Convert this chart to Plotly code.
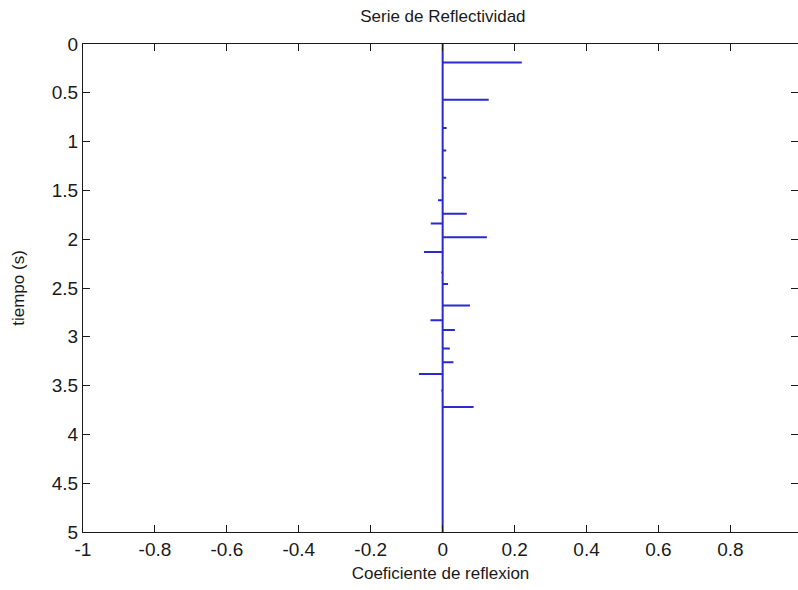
import plotly.graph_objects as go

# Reflectivity series: two-way time (s) and reflection coefficient at each interface
tiempo = [0.19, 0.57, 0.86, 1.09, 1.37, 1.60, 1.74, 1.84, 1.98, 2.13,
          2.34, 2.46, 2.68, 2.83, 2.93, 3.12, 3.26, 3.38, 3.55, 3.72]
coef = [0.22, 0.128, 0.011, 0.010, 0.010, -0.013, 0.067, -0.033, 0.123, -0.052,
        -0.004, 0.015, 0.076, -0.034, 0.034, 0.020, 0.030, -0.066, -0.004, 0.086]

t_inicio, t_fin = 0.0, 5.0
x_ticks = [-1, -0.8, -0.6, -0.4, -0.2, 0, 0.2, 0.4, 0.6, 0.8, 1]
y_ticks = [0, 0.5, 1, 1.5, 2, 2.5, 3, 3.5, 4, 4.5, 5]

# Trace runs down the zero line and out to each coefficient and back
xs, ys = [0.0], [t_inicio]
for t, r in zip(tiempo, coef):
    xs += [0.0, r, 0.0]
    ys += [t, t, t]
xs.append(0.0)
ys.append(t_fin)

FONT = "Liberation Sans"
INK = "#1a1a1a"

fig = go.Figure()
fig.add_trace(go.Scatter(x=xs, y=ys, mode="lines",
                         line=dict(color="#2a2ad2", width=2),
                         hoverinfo="skip", showlegend=False))
# empty trace so the right-hand tick axis is drawn
fig.add_trace(go.Scatter(x=[None], y=[None], yaxis="y2", mode="lines",
                         showlegend=False, hoverinfo="skip"))

axis_common = dict(ticks="inside", ticklen=7, tickwidth=1, tickcolor=INK,
                   showgrid=False, zeroline=False,
                   tickfont=dict(family=FONT, size=19, color=INK))

fig.update_layout(
    width=798, height=590,
    margin=dict(l=83, r=0, t=44, b=58),
    paper_bgcolor="white", plot_bgcolor="white",
    title=dict(text="Serie de Reflectividad", x=0.555, xanchor="center",
               y=0.973, yanchor="middle",
               font=dict(family=FONT, size=17, color=INK)),
    xaxis=dict(range=[-1, 0.988], tickvals=x_ticks,
               ticktext=[f"{v:g}" for v in x_ticks],
               showline=True, linecolor=INK, linewidth=1, mirror="ticks",
               title=dict(text="Coeficiente de reflexion", standoff=8,
                          font=dict(family=FONT, size=17, color=INK)),
               **axis_common),
    yaxis=dict(range=[t_fin, t_inicio], tickvals=y_ticks,
               ticktext=[f"{v:g}" for v in y_ticks],
               showline=True, linecolor=INK, linewidth=1,
               title=dict(text="tiempo (s)", standoff=22,
                          font=dict(family=FONT, size=17, color=INK)),
               **axis_common),
    yaxis2=dict(overlaying="y", side="right", matches="y",
                tickvals=y_ticks, showticklabels=False, showline=False,
                ticks="inside", ticklen=7, tickcolor=INK,
                showgrid=False, zeroline=False),
)

fig.write_html("out.html")
